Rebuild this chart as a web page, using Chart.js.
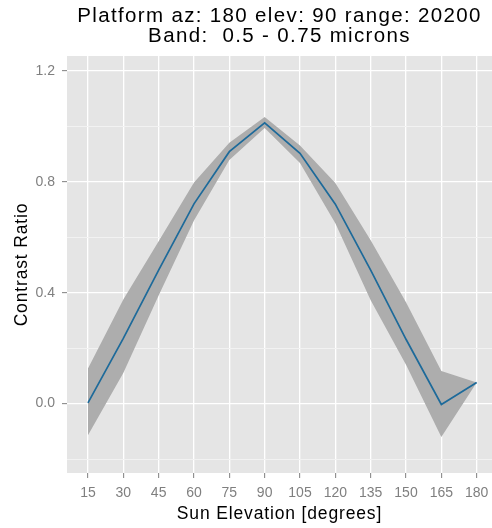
<!DOCTYPE html>
<html>
<head>
<meta charset="utf-8">
<script src="https://cdn.jsdelivr.net/npm/chart.js@4"></script>
<style>
html,body{margin:0;padding:0;background:#fff;}
#wrap{width:492px;height:528px;position:relative;}
</style>
</head>
<body>
<div id="wrap"><canvas id="c" width="492" height="528"></canvas></div>
<script>
const elevations = [15, 30, 45, 60, 75, 90, 105, 120, 135, 150, 165, 180];
const contrast   = [0.003, 0.235, 0.481, 0.72, 0.908, 1.012, 0.902, 0.719, 0.481, 0.232, -0.003, 0.076];
const upperBand  = [0.127, 0.375, 0.585, 0.797, 0.94, 1.033, 0.93, 0.795, 0.589, 0.365, 0.118, 0.076];
const lowerBand  = [-0.114, 0.11, 0.39, 0.66, 0.878, 0.993, 0.867, 0.65, 0.373, 0.14, -0.12, 0.076];
const xTicks = [15, 30, 45, 60, 75, 90, 105, 120, 135, 150, 165, 180];
const yTicks = [-0.2, 0, 0.2, 0.4, 0.6, 0.8, 1.0, 1.2];
const yLabeled = [0, 0.4, 0.8, 1.2];
const titleLines = ['Platform az: 180 elev: 90 range: 20200', 'Band:  0.5 - 0.75 microns'];

const pts = arr => elevations.map((x, i) => ({x: x, y: arr[i]}));
const isMajor = v => yLabeled.some(t => Math.abs(t - v) < 1e-6);
const FONT = "'Liberation Sans', Arial, sans-serif";

const panelBg = {
  id: 'panelBg',
  beforeDraw(chart) {
    const a = chart.chartArea, ctx = chart.ctx;
    ctx.save();
    ctx.fillStyle = '#E5E5E5';
    ctx.fillRect(a.left, a.top, a.right - a.left, a.bottom - a.top);
    ctx.restore();
  }
};

function withSpacing(obj, fn, sp) {
  if (!obj || typeof obj[fn] !== 'function' || obj['_sp_' + fn]) return;
  const orig = obj[fn];
  obj['_sp_' + fn] = true;
  obj[fn] = function (...args) {
    const ctx = this.ctx;
    const prev = ctx.letterSpacing;
    ctx.letterSpacing = sp + 'px';
    try { return orig.apply(this, args); } finally { ctx.letterSpacing = prev || '0px'; }
  };
}
const spacing = {
  id: 'spacing',
  afterLayout(chart) {
    withSpacing(chart.titleBlock, 'draw', 1.35);
    withSpacing(chart.scales.x, 'drawTitle', 0.85);
    withSpacing(chart.scales.y, 'drawTitle', 0.85);
  }
};

new Chart(document.getElementById('c'), {
  type: 'line',
  data: {
    datasets: [
      {label: 'contrast', data: pts(contrast), borderWidth: 1.7, pointRadius: 0, fill: false, borderColor: '#1D6A9A', tension: 0, order: 0},
      {label: 'upper', data: pts(upperBand), borderWidth: 0, pointRadius: 0, fill: '+1', backgroundColor: '#ADADAD', borderColor: 'rgba(0,0,0,0)', tension: 0, order: 1},
      {label: 'lower', data: pts(lowerBand), borderWidth: 0, pointRadius: 0, fill: false, borderColor: 'rgba(0,0,0,0)', tension: 0, order: 2}
    ]
  },
  options: {
    responsive: false,
    animation: false,
    devicePixelRatio: 1,
    layout: {padding: {left: 0, right: 0, top: 0, bottom: 0}},
    plugins: {
      legend: {display: false},
      tooltip: {enabled: false},
      title: {
        display: true,
        fullSize: false,
        text: titleLines,
        color: '#000',
        font: {family: FONT, size: 20.5, weight: 'normal', lineHeight: 0.98},
        padding: {top: 6.5, bottom: 9.3}
      }
    },
    scales: {
      x: {
        type: 'linear',
        min: 6.1,
        max: 186.5,
        afterBuildTicks(s) { s.ticks = xTicks.map(v => ({value: v})); },
        afterFit(s) { s.height = 55; s.paddingLeft = 0; s.paddingRight = 0; },
        grid: {color: '#FFFFFF', lineWidth: 1.3, drawTicks: true, tickLength: 5, tickColor: '#7F7F7F', tickWidth: 1},
        border: {display: false},
        ticks: {color: '#7F7F7F', font: {family: FONT, size: 14}, padding: 7, maxRotation: 0, autoSkip: false},
        title: {display: true, text: 'Sun Elevation [degrees]', color: '#000', font: {family: FONT, size: 17.5}, padding: {top: 0, bottom: 3}}
      },
      y: {
        type: 'linear',
        min: -0.25,
        max: 1.253,
        afterBuildTicks(s) { s.ticks = yTicks.map(v => ({value: v})); },
        afterFit(s) { s.width = 67; s.paddingTop = 0; s.paddingBottom = 0; },
        grid: {
          color: c => isMajor(c.tick.value) ? '#FFFFFF' : '#F2F2F2',
          lineWidth: c => isMajor(c.tick.value) ? 1.3 : 1,
          drawTicks: true, tickLength: 5,
          tickColor: c => isMajor(c.tick.value) ? '#7F7F7F' : 'rgba(0,0,0,0)',
          tickWidth: 1
        },
        border: {display: false},
        ticks: {
          color: '#7F7F7F', font: {family: FONT, size: 14}, padding: 7, autoSkip: false,
          callback: v => isMajor(v) ? Number(v).toFixed(1) : ''
        },
        title: {display: true, text: 'Contrast Ratio', color: '#000', font: {family: FONT, size: 17.5}, padding: {top: 12, bottom: 0}}
      }
    }
  },
  plugins: [panelBg, spacing]
});
</script>
</body>
</html>
